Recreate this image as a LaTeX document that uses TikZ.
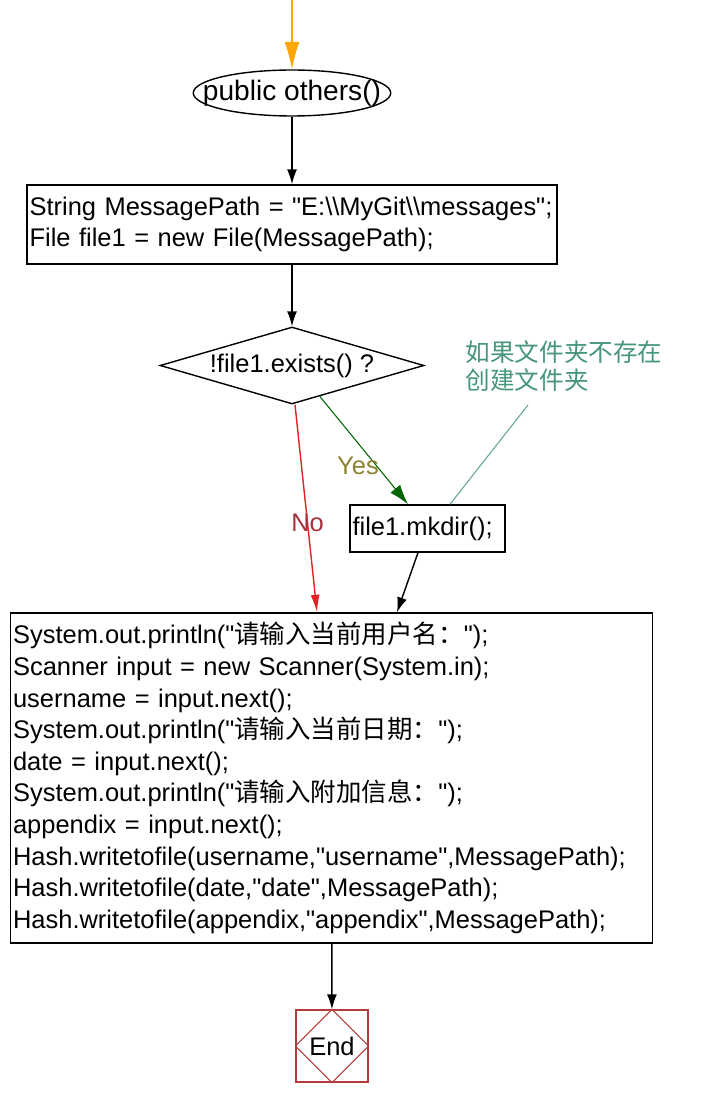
\documentclass[tikz,border=0pt]{standalone}
\usepackage{fontspec}
\setmainfont{Liberation Sans}[Ligatures=TeXOff]
\newfontfamily\cjk{Noto Sans CJK SC}
\usetikzlibrary{arrows.meta,shapes.geometric,calc}
\definecolor{entryorange}{RGB}{255, 165, 0}
\definecolor{noline}{RGB}{225, 35, 35}
\definecolor{nolabel}{RGB}{165, 50, 60}
\definecolor{yesline}{RGB}{0, 100, 0}
\definecolor{yeslabel}{RGB}{140, 130, 50}
\definecolor{notegreen}{RGB}{70, 150, 120}
\definecolor{endred}{RGB}{180, 60, 60}

\tikzset{
  codefont/.style  = {font=\fontsize{14.5}{18}\selectfont},
  stepbox/.style   = {draw, line width=0.8pt, inner xsep=0.05cm, inner ysep=0pt, align=left, codefont},
  startoval/.style = {draw, ellipse, line width=0.8pt, inner xsep=-0.385cm, inner ysep=-0.1cm,
                      minimum width=3.92cm, minimum height=0.92cm, font=\fontsize{16}{18}\selectfont},
  decision/.style  = {draw, diamond, line width=0.8pt, inner sep=0pt, aspect=3.4,
                      minimum width=5.28cm, minimum height=1.54cm, codefont},
  flow/.style      = {line width=0.8pt, -{Latex[length=0.3cm, width=0.2cm]}},
}

\begin{document}
\begin{tikzpicture}[x=0.02cm, y=-0.02cm]
  \useasboundingbox (0,0) rectangle (721,1104);

  % nodes
  \coordinate (entry) at (292, 0);
  \node[startoval]                                      (start) at (292.0,  93.0) {public others()};
  \node[stepbox, text width=10.5cm, minimum height=1.58cm] (path)  at (292.0, 224.5)
       {String MessagePath = "E:\textbackslash\textbackslash MyGit\textbackslash\textbackslash messages";\\
        File file1 = new File(MessagePath);};
  \node[decision]                                       (check) at (292.0, 365.5) {!file1.exists() ?};
  \node[stepbox, text width=3.0cm, minimum height=0.94cm]  (mkdir) at (427.5, 528.5) {file1.mkdir();};
  \node[align=left, text=notegreen, font=\cjk\fontsize{14}{16}\selectfont]
                                                        (note)  at (564.0, 366.0) {如果文件夹不存在\\创建文件夹};
  \coordinate (notetip) at (528, 405);
  \node[stepbox, text width=12.74cm, minimum height=6.6cm] (input) at (331.5, 778.0)
       {System.out.println("{\cjk 请输入当前用户名：}");\\
        Scanner input = new Scanner(System.in);\\
        username = input.next();\\
        System.out.println("{\cjk 请输入当前日期：}");\\
        date = input.next();\\
        System.out.println("{\cjk 请输入附加信息：}");\\
        appendix = input.next();\\
        Hash.writetofile(username,"username",MessagePath);\\
        Hash.writetofile(date,"date",MessagePath);\\
        Hash.writetofile(appendix,"appendix",MessagePath);};
  \node[draw=endred, line width=0.8pt, minimum size=1.44cm, inner sep=0pt, codefont] (end) at (332.0, 1046.0) {End};
  \draw[endred, line width=0.6pt] (end.north) -- (end.east) -- (end.south) -- (end.west) -- cycle;

  % connectors
  \draw[flow, entryorange, -{Latex[length=0.55cm, width=0.3cm]}] (entry) -- (start.north);
  \draw[flow] (start) -- (path);
  \draw[flow] (path) -- (check);
  \draw[flow, noline, -{Latex[length=0.35cm, width=0.18cm]}]
       ([xshift=0.06cm]check.south) -- node[pos=0.57, text=nolabel, codefont] (nolbl) {No} ([xshift=-0.29cm]input.north);
  \draw[flow, yesline, line width=0.6pt, -{Latex[length=0.4cm, width=0.25cm]}]
       ($(check.south)!0.21!(check.east)$) -- ([xshift=-0.39cm]mkdir.north);
  \node[text=yeslabel, codefont] (yeslbl) at (358, 466) {Yes};
  \draw[notegreen!85, line width=0.6pt] (notetip) -- ([xshift=0.45cm]mkdir.north);
  \draw[flow] ([xshift=-0.19cm]mkdir.south) -- ([xshift=1.31cm]input.north);
  \draw[flow] (input) -- (end);
\end{tikzpicture}
\end{document}
